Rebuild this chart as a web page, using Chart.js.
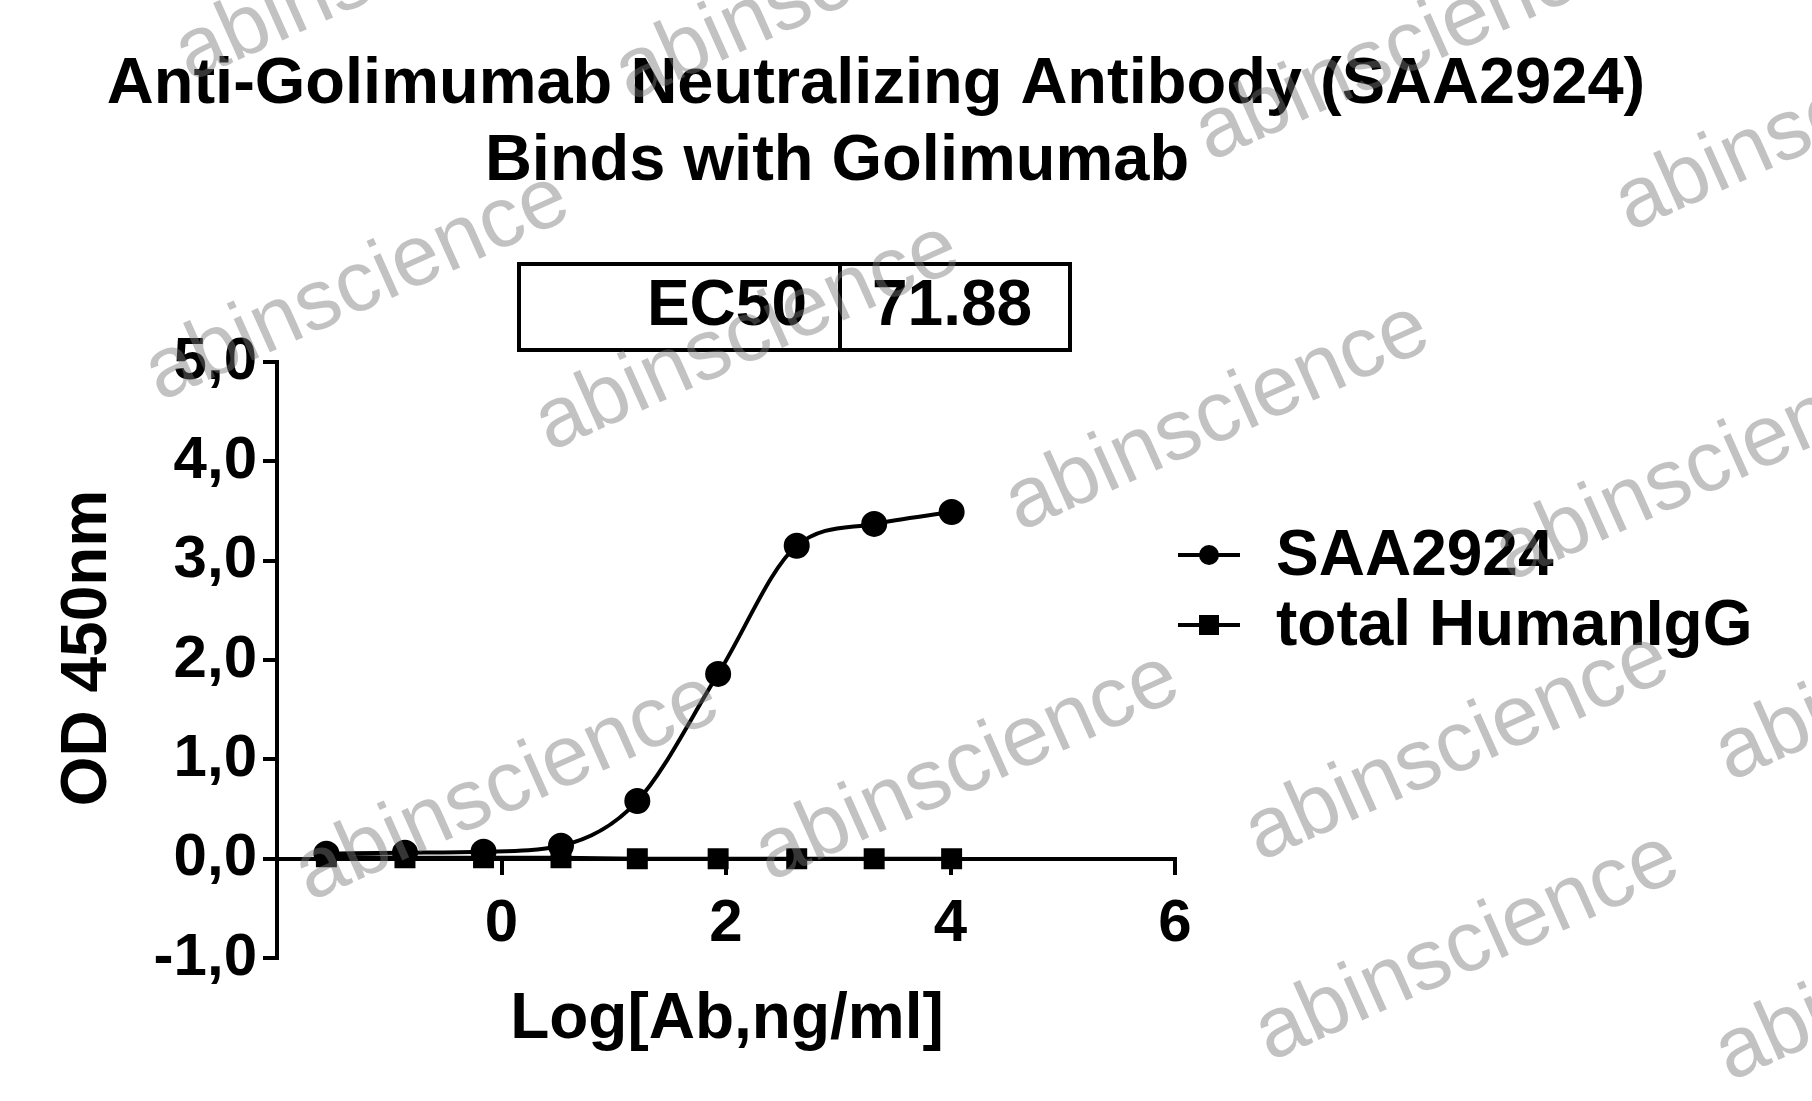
<!DOCTYPE html>
<html>
<head>
<meta charset="utf-8">
<script src="https://cdn.jsdelivr.net/npm/chart.js@4.4.1/dist/chart.umd.min.js"></script>
<style>
    html, body { margin: 0; padding: 0; background: #fff; }
    canvas { display: block; }
</style>
</head>
<body>
<canvas id="chart" width="1812" height="1101"></canvas>
<script>
// ================= DATA =================
const logConc = [-1.56, -0.86, -0.16, 0.53, 1.21, 1.93, 2.63, 3.32, 4.01];
const saa2924 = [0.05, 0.06, 0.07, 0.13, 0.58, 1.86, 3.15, 3.37, 3.49];
const totalHumanIgG = [0.02, 0.01, 0.01, 0.01, 0.0, 0.0, 0.0, 0.0, 0.0];
const xTicks = [0, 2, 4, 6];
const yTicks = [-1, 0, 1, 2, 3, 4, 5];
const titleLines = ["Anti-Golimumab Neutralizing Antibody (SAA2924)", "Binds with Golimumab"];
const ec50Label = "EC50";
const ec50Value = "71.88";
const seriesNames = ["SAA2924", "total HumanIgG"];

const FONT = "'Liberation Sans', Arial, sans-serif";

const pts = (ys) => logConc.map((x, i) => ({ x, y: ys[i] }));

// ================= DECOR =================
const decor = {
    id: "decor",
    beforeDraw(chart) {
        const c = chart.ctx;
        c.save();
        c.fillStyle = "#fff";
        c.fillRect(0, 0, chart.width, chart.height);
        c.restore();
    },
    afterDraw(chart) {
        const c = chart.ctx;
        c.save();
        c.fillStyle = "#000";
        c.textAlign = "center";
        c.textBaseline = "middle";

        // title
        c.font = "bold 65px " + FONT;
        c.fillText(titleLines[0], 876, 85);
        c.fillText(titleLines[1], 837, 162);

        // EC50 box
        c.lineWidth = 4;
        c.strokeRect(519, 264, 551, 86);
        c.beginPath();
        c.moveTo(840, 264);
        c.lineTo(840, 350);
        c.stroke();
        c.font = "bold 64px " + FONT;
        c.textAlign = "right";
        c.fillText(ec50Label, 807, 307);
        c.textAlign = "left";
        c.fillText(ec50Value, 872, 307);

        // axis titles
        c.textAlign = "center";
        c.font = "bold 64px " + FONT;
        c.fillText("Log[Ab,ng/ml]", 727, 1020);
        c.save();
        c.translate(88, 648);
        c.rotate(-Math.PI / 2);
        c.fillText("OD 450nm", 0, 0);
        c.restore();

        // legend
        c.font = "bold 64px " + FONT;
        c.textAlign = "left";
        const ly = [555, 625];
        ly.forEach((y, i) => {
            c.lineWidth = 4;
            c.beginPath();
            c.moveTo(1178, y);
            c.lineTo(1240, y);
            c.stroke();
            if (i === 0) {
                c.beginPath();
                c.arc(1209, y, 10, 0, Math.PI * 2);
                c.fill();
            } else {
                c.fillRect(1199, y - 10, 20, 20);
            }
            c.fillText(seriesNames[i], 1276, y + 2);
        });

        // watermarks
        c.fillStyle = "rgba(120,120,120,0.45)";
        c.font = "86px " + FONT;
        const marks = [[180, 60], [620, 80], [1200, 140], [1620, 210], [150, 380],
            [540, 430], [1010, 510], [1500, 560], [300, 880], [760, 860],
            [1250, 840], [1260, 1040], [1720, 760], [1720, 1060]];
        marks.forEach(([x, y]) => {
            c.save();
            c.translate(x, y);
            c.rotate(-0.42);
            c.fillText("abinscience", 0, 0);
            c.restore();
        });
        c.restore();
    }
};

// ================= CHART =================
new Chart(document.getElementById("chart"), {
    type: "line",
    data: {
        datasets: [{
            label: seriesNames[0],
            data: pts(saa2924),
            borderColor: "#000",
            backgroundColor: "#000",
            borderWidth: 4,
            pointStyle: "circle",
            pointRadius: 11,
            cubicInterpolationMode: "monotone"
        }, {
            label: seriesNames[1],
            data: pts(totalHumanIgG),
            borderColor: "#000",
            backgroundColor: "#000",
            borderWidth: 4,
            pointStyle: "rect",
            pointRadius: 12
        }]
    },
    options: {
        responsive: false,
        animation: false,
        layout: { padding: { top: 362, right: 637, bottom: 143, left: 0 } },
        plugins: { legend: { display: false }, tooltip: { enabled: false } },
        scales: {
            x: {
                type: "linear",
                position: { y: 0 },
                min: -2,
                max: 6,
                afterBuildTicks: (ax) => { ax.ticks = xTicks.map(v => ({ value: v })); },
                grid: { drawOnChartArea: false, drawTicks: true, tickLength: 14, color: "#000", lineWidth: 4 },
                border: { color: "#000", width: 4 },
                ticks: { color: "#000", font: { family: FONT, size: 60, weight: "bold" }, padding: 16 }
            },
            y: {
                type: "linear",
                min: -1,
                max: 5,
                afterFit: (ax) => { ax.width = 277; },
                afterBuildTicks: (ax) => { ax.ticks = yTicks.map(v => ({ value: v })); },
                grid: { drawOnChartArea: false, drawTicks: true, tickLength: 14, color: "#000", lineWidth: 4 },
                border: { color: "#000", width: 4 },
                ticks: {
                    color: "#000",
                    font: { family: FONT, size: 60, weight: "bold" },
                    padding: 6,
                    callback: (v) => v.toFixed(1).replace(".", ",")
                }
            }
        }
    },
    plugins: [decor]
});
</script>
</body>
</html>
